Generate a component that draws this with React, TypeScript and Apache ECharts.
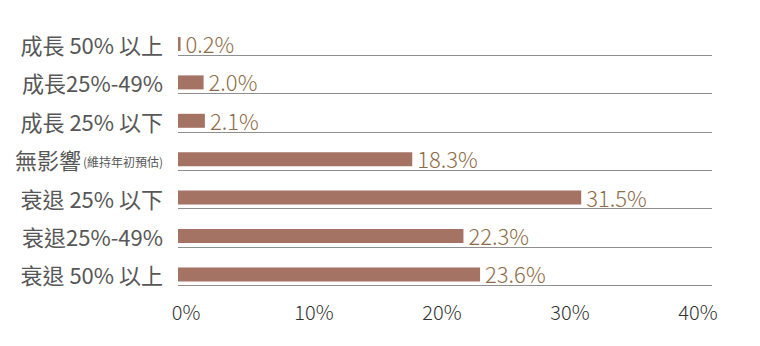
import React, { useEffect, useRef } from "react";
import * as echarts from "echarts";

const categories = [
  "成長 50% 以上",
  "成長25%-49%",
  "成長 25% 以下",
  "無影響(維持年初預估)",
  "衰退 25% 以下",
  "衰退25%-49%",
  "衰退 50% 以上",
];
const values = [0.2, 2.0, 2.1, 18.3, 31.5, 22.3, 23.6];
const tickValues = [0, 10, 20, 30, 40];

const FONT = '"Noto Sans CJK TC", "Noto Sans CJK SC", sans-serif';

export default function App() {
  const ref = useRef<HTMLDivElement>(null);
  useEffect(() => {
    if (!ref.current) return;
    const chart = echarts.init(ref.current, undefined, { renderer: "svg" });
    chart.setOption({
      animation: false,
      backgroundColor: "#ffffff",
      grid: [
        { left: 178, top: 24.8, width: 512, height: 268.8 },
        { left: 178, top: 16.6, width: 534, height: 268.8 },
      ],
      xAxis: [
        {
          gridIndex: 0,
          type: "value",
          min: tickValues[0],
          max: tickValues[tickValues.length - 1],
          interval: 10,
          axisLine: { show: false },
          axisTick: { show: false },
          splitLine: { show: false },
          axisLabel: {
            formatter: (v: number) => `${v}%`,
            color: "#333333",
            fontSize: 20,
            fontWeight: 300,
            fontFamily: FONT,
            margin: 8,
            padding: [0, 0, 0, 16],
          },
        },
        {
          gridIndex: 1,
          type: "value",
          min: 0,
          max: 1,
          show: false,
        },
      ],
      yAxis: [
        {
          gridIndex: 0,
          type: "category",
          data: categories,
          inverse: true,
          axisLine: { show: false },
          axisTick: { show: false },
          splitLine: { show: false },
          axisLabel: {
            margin: 15,
            color: "#575757",
            fontSize: 22,
            fontFamily: FONT,
            formatter: (v: string) => {
              const i = v.indexOf("(");
              if (i > 0) return `${v.slice(0, i)}{s|${v.slice(i)}}`;
              return v;
            },
            rich: {
              s: { fontSize: 12, color: "#575757", fontFamily: FONT, padding: [5, 0, 0, 2] },
            },
          },
        },
        {
          gridIndex: 1,
          type: "category",
          data: categories,
          inverse: true,
          axisLine: { show: false },
          axisTick: { show: false },
          axisLabel: { show: false },
          splitLine: {
            show: true,
            interval: (index: number) => index !== 0,
            lineStyle: { color: "#8f8f8f", width: 1.2 },
          },
        },
      ],
      series: [
        {
          type: "bar",
          xAxisIndex: 0,
          yAxisIndex: 0,
          data: values,
          barWidth: 14,
          itemStyle: { color: "#a47363" },
          label: {
            show: true,
            position: "right",
            distance: 5,
            offset: [0, -1],
            formatter: (p: any) => `${Number(p.value).toFixed(1)}%`,
            color: "#8e6c47",
            fontSize: 22,
            fontWeight: 300,
            fontFamily: FONT,
          },
        },
      ],
    });
    return () => chart.dispose();
  }, []);
  return (
    <div
      ref={ref}
      style={{ position: "fixed", left: 0, top: 0, width: 760, height: 346 }}
    />
  );
}
